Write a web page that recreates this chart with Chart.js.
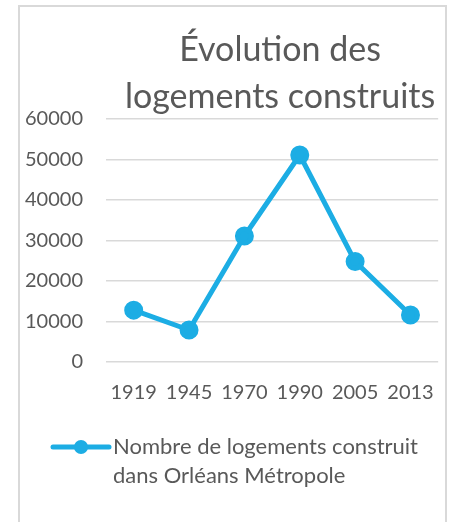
<!DOCTYPE html>
<html>
<head>
<meta charset="utf-8">
<script src="https://cdn.jsdelivr.net/npm/chart.js"></script>
<style>
body{margin:0;background:#fff}
#cadre{position:absolute;left:18px;top:5px;width:429px;height:540px;border:2px solid #d9d9d9;box-sizing:border-box}
#myChart{position:absolute;left:0;top:0}
</style>
</head>
<body>
<div id="cadre"></div>
<canvas id="myChart" width="454" height="522"></canvas>
<script>
const annees = ["1919", "1945", "1970", "1990", "2005", "2013"]
const logements = [12800, 7900, 31100, 51100, 24800, 11600]
const serieNom = ["Nombre de logements construit", "dans Orléans Métropole"]
const titre = ["Évolution des", "logements construits"]
const yMin = 0
const yMax = 60000
const yPas = 10000

const couleur = "#1CADE4"
const gris = "#595959"
const police = "Lato"

// legende dessinee sous l'axe : trait + rond comme dans Excel
const legendeBas = {
    id: "legendeBas",
    afterLayout(chart) {
        // le titre Excel est un peu decale vers la droite
        chart.titleBlock.left += 16
    },
    afterDraw(chart) {
        const ctx = chart.ctx
        const ds = chart.data.datasets[0]
        const y = chart.chartArea.bottom + 85
        const x0 = 53, x1 = 109
        ctx.save()
        ctx.strokeStyle = ds.borderColor
        ctx.lineWidth = ds.borderWidth
        ctx.lineCap = "round"
        ctx.beginPath()
        ctx.moveTo(x0, y)
        ctx.lineTo(x1, y)
        ctx.stroke()
        ctx.fillStyle = ds.pointBackgroundColor
        ctx.beginPath()
        ctx.arc((x0 + x1) / 2, y, ds.pointRadius, 0, Math.PI * 2)
        ctx.fill()
        ctx.font = "22px " + police
        ctx.fillStyle = gris
        ctx.textBaseline = "middle"
        for (let i = 0; i < serieNom.length; i++) {
            ctx.fillText(serieNom[i], x1 + 4, y + i * 29)
        }
        ctx.restore()
    }
}

function drawChart() {
    new Chart("myChart", {
        type: "line",
        data: {
            labels: annees,
            datasets: [{
                label: serieNom.join(" "),
                data: logements,
                borderColor: couleur,
                backgroundColor: couleur,
                pointBackgroundColor: couleur,
                pointBorderColor: couleur,
                borderWidth: 5,
                pointRadius: 7,
                pointHoverRadius: 7,
                borderJoinStyle: "round",
                borderCapStyle: "round",
                tension: 0,
                fill: false
            }]
        },
        options: {
            responsive: false,
            animation: false,
            layout: {
                padding: { left: 2, right: 15, top: 5, bottom: 98 }
            },
            plugins: {
                legend: { display: false },
                tooltip: { enabled: false },
                title: {
                    display: true,
                    text: titre,
                    fullSize: false,
                    color: gris,
                    font: { family: police, size: 34, weight: "normal", lineHeight: 1.382 },
                    padding: { top: 22, bottom: -2 }
                }
            },
            scales: {
                x: {
                    offset: true,
                    grid: { display: false, drawTicks: false },
                    border: { display: false },
                    ticks: {
                        color: gris,
                        padding: 19,
                        maxRotation: 0,
                        font: { family: police, size: 20 }
                    }
                },
                y: {
                    min: yMin,
                    max: yMax,
                    grid: { color: "#d9d9d9", lineWidth: 1.5, drawTicks: false },
                    border: { display: false },
                    ticks: {
                        stepSize: yPas,
                        color: gris,
                        padding: 23,
                        font: { family: police, size: 20 },
                        callback: v => String(v)
                    }
                }
            }
        },
        plugins: [legendeBas]
    })
}

drawChart()
</script>
</body>
</html>
